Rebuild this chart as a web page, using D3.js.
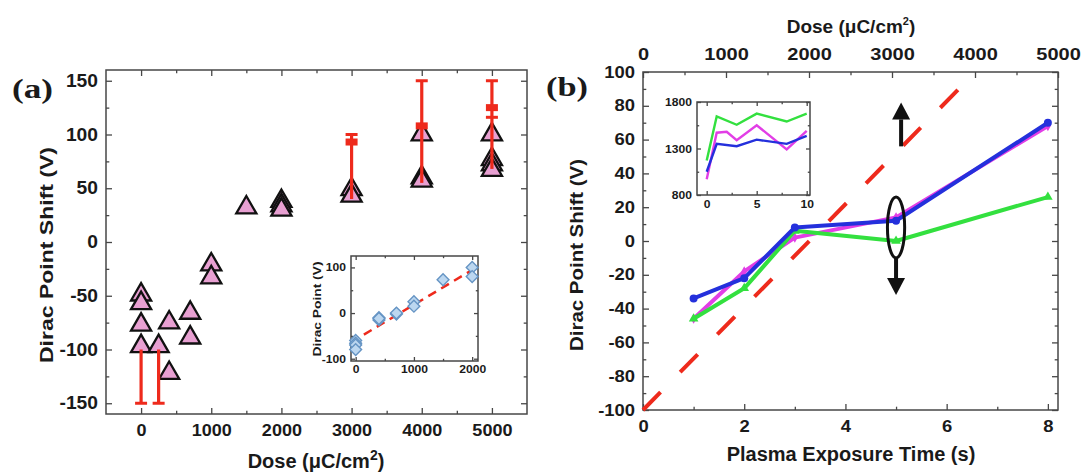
<!DOCTYPE html>
<html lang="en">
<head>
<meta charset="UTF-8">
<title>Dirac point shift vs dose</title>
<style>
  body { margin: 0; background: #fff; }
  svg text { font-family: "Liberation Sans", Arial, Helvetica, sans-serif; font-weight: bold; fill: #1a1a1a; }
</style>
</head>
<body>
<svg id="fig" width="1082" height="474"></svg>
<script src="https://d3js.org/d3.v7.min.js"></script>
<script>
// ---- panel (a): Dirac point shift vs e-beam dose (triangles)
const doseA  = [0, 0, 0, 0, 250, 400, 400, 700, 700, 1000, 1000, 1500, 2000, 2000, 2000, 3000, 3000, 4000, 4000, 4000, 5000, 5000, 5000, 5000];
const shiftA = [-49, -57, -77, -97, -97, -75, -122, -66, -89, -21, -33, 32, 38, 34, 30, 49, 43, 100, 60, 57, 100, 77, 72, 67];

// red error bars in (a)
const errDose  = [0, 250, 3000, 4000, 5000];
const errLow   = [-150, -150, 40, 55, 68];
const errHigh  = [-100, -100, 100, 150, 150];
const capDose  = [0, 250, 3000, 4000, 5000, 5000];
const capVal   = [-150, -150, 100, 150, 150, 116];
const meanDose = [3000, 4000, 5000];
const meanVal  = [93, 108, 125];

// inset of (a): Dirac point vs dose (diamonds + fit)
const insetDose  = [0, 0, 0, 0, 400, 400, 400, 700, 700, 1000, 1000, 1500, 2000, 2000];
const insetDirac = [-60, -66, -70, -80, -10, -15, -12, -2, 0, 25, 15, 73, 100, 80];
const fitDose  = [-80, 2100];
const fitDirac = [-64, 102];

// ---- panel (b): shift vs plasma exposure time
const timeB    = [1, 2, 3, 5, 8];
const blueB    = [-34, -22, 8, 12, 70];
const magentaB = [-46, -18, 2, 14, 68];
const greenB   = [-46, -28, 6, 0, 26];
const guideTime  = [0, 6.33];
const guideShift = [-100, 92.7];

// inset of (b)
const insetTime    = [0, 1, 3, 5, 8, 10];
const insetGreen   = [1170, 1645, 1555, 1675, 1590, 1675];
const insetBlue    = [1050, 1350, 1325, 1395, 1350, 1435];
const magentaTime  = [0, 1, 2, 3, 5, 8, 10];
const insetMagenta = [970, 1470, 1480, 1390, 1550, 1290, 1490];

// annotations in (b)
const ringTime = 5, ringShift = 8, ringHalfTime = 0.17, ringHalfShift = 18;
const arrowTime = [5.1, 5.0];
const arrowFrom = [56, -10];
const arrowTo   = [82, -32];

const FONT = '"Liberation Sans", Arial, Helvetica, sans-serif';
const FRAME = "#474747";
const RED = "#ee2a1c";
const svg = d3.select("#fig");

// widen glyphs a little, the source figure is slightly stretched
function stretch(sel, k) {
  if (k === 1) return;
  sel.each(function () {
    const w = this.getComputedTextLength();
    if (w > 0) {
      this.setAttribute("textLength", w * k);
      this.setAttribute("lengthAdjust", "spacingAndGlyphs");
    }
  });
}

// one side of a boxed axis: inward major + minor ticks
function side(g, make, scale, tr, majors, minors, len, pad, fmt, fs, k) {
  const a = g.append("g").attr("transform", tr)
    .call(make(scale).tickValues(majors).tickSize(-len).tickPadding(pad).tickFormat(fmt || (() => "")));
  const m = g.append("g").attr("transform", tr)
    .call(make(scale).tickValues(minors).tickSize(-len * 0.55).tickFormat(() => ""));
  [a, m].forEach(s => {
    s.select(".domain").remove();
    s.selectAll("line").attr("stroke", FRAME).attr("stroke-width", 1.3);
  });
  a.attr("font-family", FONT).attr("font-size", fs).attr("font-weight", "bold");
  a.selectAll("text").attr("fill", "#1a1a1a").call(stretch, k || 1);
}

function frame(g, x, y, fill) {
  const [x0, x1] = x.range(), [y0, y1] = y.range();
  g.append("rect").attr("x", x0).attr("y", y1).attr("width", x1 - x0).attr("height", y0 - y1)
    .attr("fill", fill || "none").attr("stroke", FRAME).attr("stroke-width", 1.5);
}

const fmt = d => String(d);

// ================= panel (a) =================
const xA = d3.scaleLinear().domain([-500, 5500]).range([106, 527]);
const yA = d3.scaleLinear().domain([-160, 160]).range([414, 70]);
const gA = svg.append("g");
const xMajA = d3.range(0, 5001, 1000), xMinA = d3.range(500, 5000, 1000);
const yMajA = d3.range(-150, 151, 50), yMinA = d3.range(-125, 126, 50);
side(gA, d3.axisBottom, xA, "translate(0,414)", xMajA, xMinA, 6, 10, fmt, 17, 1.06);
side(gA, d3.axisTop, xA, "translate(0,70)", xMajA, xMinA, 6, 0, null, 17);
side(gA, d3.axisLeft, yA, "translate(106,0)", yMajA, yMinA, 6, 8, fmt, 17.5, 1.1);
side(gA, d3.axisRight, yA, "translate(527,0)", yMajA, yMinA, 6, 0, null, 17);
frame(gA, xA, yA);

// inset (a)
const xIA = d3.scaleLinear().domain([-80, 2100]).range([351, 478]);
const yIA = d3.scaleLinear().domain([-105, 125]).range([361, 256]);
const gIA = svg.append("g");
frame(gIA, xIA, yIA, "#fff");
side(gIA, d3.axisBottom, xIA, "translate(0,361)", [0, 1000, 2000], [500, 1500], 4, 4, fmt, 11, 1.1);
side(gIA, d3.axisTop, xIA, "translate(0,256)", [0, 1000, 2000], [500, 1500], 4, 0, null, 11);
side(gIA, d3.axisLeft, yIA, "translate(351,0)", [-100, 0, 100], [-50, 50], 4, 5, fmt, 11, 1.1);
side(gIA, d3.axisRight, yIA, "translate(478,0)", [-100, 0, 100], [-50, 50], 4, 0, null, 11);
gIA.append("path")
  .attr("d", d3.line()(fitDose.map((d, i) => [xIA(d), yIA(fitDirac[i])])))
  .attr("stroke", RED).attr("stroke-width", 2.5).attr("stroke-dasharray", "9,6").attr("fill", "none");
gIA.selectAll("path.dia").data(insetDose.map((d, i) => [d, insetDirac[i]])).join("path")
  .attr("class", "dia")
  .attr("d", d3.symbol(d3.symbolSquare, 70)())
  .attr("transform", d => `translate(${xIA(d[0])},${yIA(d[1])}) rotate(45)`)
  .attr("fill", "#bcd7f0").attr("stroke", "#6594c4").attr("stroke-width", 1.4);
gIA.append("text").attr("transform", "translate(321,309) rotate(-90)")
  .attr("text-anchor", "middle").attr("font-size", 11).attr("textLength", 95)
  .attr("lengthAdjust", "spacingAndGlyphs").text("Dirac Point (V)");

// triangles
gA.selectAll("path.tri").data(doseA.map((d, i) => [d, shiftA[i]])).join("path")
  .attr("class", "tri")
  .attr("d", d3.symbol(d3.symbolTriangle, 175)())
  .attr("transform", d => `translate(${xA(d[0])},${yA(d[1])})`)
  .attr("fill", "#e8a0d2").attr("stroke", "#111").attr("stroke-width", 2.3);

// error bars
const gErr = gA.append("g").attr("stroke", RED).attr("fill", RED);
gErr.selectAll("line.bar").data(errDose).join("line").attr("class", "bar")
  .attr("x1", d => xA(d)).attr("x2", d => xA(d))
  .attr("y1", (d, i) => yA(errLow[i])).attr("y2", (d, i) => yA(errHigh[i]))
  .attr("stroke-width", 3.2);
gErr.selectAll("line.cap").data(capDose).join("line").attr("class", "cap")
  .attr("x1", d => xA(d) - 6).attr("x2", d => xA(d) + 6)
  .attr("y1", (d, i) => yA(capVal[i])).attr("y2", (d, i) => yA(capVal[i]))
  .attr("stroke-width", 3);
gErr.selectAll("rect").data(meanDose).join("rect")
  .attr("x", d => xA(d) - 6).attr("width", 12)
  .attr("y", (d, i) => yA(meanVal[i]) - 3.5).attr("height", 7).attr("stroke", "none");

// labels (a)
gA.append("text").attr("transform", "translate(53,255) rotate(-90)").attr("text-anchor", "middle")
  .attr("font-size", 18).attr("textLength", 216).attr("lengthAdjust", "spacingAndGlyphs")
  .text("Dirac Point Shift (V)");
const tA = gA.append("text").attr("x", 316).attr("y", 468).attr("text-anchor", "middle").attr("font-size", 20);
tA.append("tspan").text("Dose (\u03bcC/cm");
tA.append("tspan").attr("dy", -8).attr("font-size", 14).text("2");
tA.append("tspan").attr("dy", 8).text(")");
svg.append("text").attr("x", 12).attr("y", 98).attr("font-size", 28)
  .style("font-family", '"Liberation Serif", "Times New Roman", serif')
  .attr("textLength", 41).attr("lengthAdjust", "spacingAndGlyphs").text("(a)");

// ================= panel (b) =================
const xB = d3.scaleLinear().domain([0, 8.2]).range([643, 1058]);
const xDose = d3.scaleLinear().domain([0, 5000]).range([643, 1058]);
const yB = d3.scaleLinear().domain([-100, 100]).range([410, 72]);
const gB = svg.append("g");
const yMajB = d3.range(-100, 101, 20), yMinB = d3.range(-90, 91, 20);
side(gB, d3.axisBottom, xB, "translate(0,410)", [0, 2, 4, 6, 8], [1, 3, 5, 7], 6, 11, fmt, 16, 1.15);
side(gB, d3.axisTop, xDose, "translate(0,72)", d3.range(0, 5001, 1000), d3.range(500, 5000, 1000), 6, 12, fmt, 16, 1.25);
side(gB, d3.axisLeft, yB, "translate(643,0)", yMajB, yMinB, 6, 8, fmt, 16, 1.15);
side(gB, d3.axisRight, yB, "translate(1058,0)", yMajB, yMinB, 6, 0, null, 16);
frame(gB, xB, yB);

// red dashed guide
gB.append("path")
  .attr("d", d3.line()(guideTime.map((d, i) => [xB(d), yB(guideShift[i])])))
  .attr("stroke", RED).attr("stroke-width", 4).attr("stroke-dasharray", "25,28").attr("fill", "none");

const lineB = d3.line().x(d => xB(d[0])).y(d => yB(d[1]));
const series = [
  { v: magentaB, c: "#e23ee6", sym: d3.symbolDiamond, s: 30 },
  { v: greenB, c: "#33e03f", sym: d3.symbolTriangle, s: 40 },
  { v: blueB, c: "#2430dc", sym: d3.symbolCircle, s: 50 }
];
series.forEach(sr => {
  const pts = timeB.map((t, i) => [t, sr.v[i]]);
  gB.append("path").attr("d", lineB(pts)).attr("stroke", sr.c).attr("stroke-width", 4)
    .attr("fill", "none").attr("stroke-linejoin", "round");
  gB.selectAll(null).data(pts).join("path")
    .attr("d", d3.symbol(sr.sym, sr.s)())
    .attr("transform", d => `translate(${xB(d[0])},${yB(d[1])})`)
    .attr("fill", sr.c);
});

// ring and arrows
gB.append("ellipse").attr("cx", xB(ringTime)).attr("cy", yB(ringShift))
  .attr("rx", xB(ringTime + ringHalfTime) - xB(ringTime))
  .attr("ry", yB(ringShift - ringHalfShift) - yB(ringShift))
  .attr("fill", "none").attr("stroke", "#111").attr("stroke-width", 3);
arrowTime.forEach((t, i) => {
  const x = xB(t), y0 = yB(arrowFrom[i]), y1 = yB(arrowTo[i]);
  const dir = y1 < y0 ? -1 : 1, head = 17;
  gB.append("line").attr("x1", x).attr("x2", x).attr("y1", y0).attr("y2", y1 - dir * head)
    .attr("stroke", "#111").attr("stroke-width", 4);
  gB.append("path").attr("d", `M${x - 9},${y1 - dir * head}L${x + 9},${y1 - dir * head}L${x},${y1}Z`).attr("fill", "#111");
});

// inset (b)
const xIB = d3.scaleLinear().domain([-0.97, 10.33]).range([697, 810]);
const yIB = d3.scaleLinear().domain([800, 1800]).range([195, 102]);
const gIB = svg.append("g");
frame(gIB, xIB, yIB, "#fff");
side(gIB, d3.axisBottom, xIB, "translate(0,195)", [0, 5, 10], [2.5, 7.5], 4, 5, fmt, 11, 1.1);
side(gIB, d3.axisTop, xIB, "translate(0,102)", [0, 5, 10], [2.5, 7.5], 4, 0, null, 11);
side(gIB, d3.axisLeft, yIB, "translate(697,0)", [800, 1300, 1800], [1050, 1550], 4, 5, fmt, 11, 1.1);
side(gIB, d3.axisRight, yIB, "translate(810,0)", [800, 1300, 1800], [1050, 1550], 4, 0, null, 11);
const lineIB = d3.line().x(d => xIB(d[0])).y(d => yIB(d[1]));
[
  { t: insetTime, v: insetGreen, c: "#33e03f" },
  { t: magentaTime, v: insetMagenta, c: "#e23ee6" },
  { t: insetTime, v: insetBlue, c: "#2430dc" }
].forEach(sr => {
  gIB.append("path").attr("d", lineIB(sr.t.map((t, i) => [t, sr.v[i]])))
    .attr("stroke", sr.c).attr("stroke-width", 2.4).attr("fill", "none");
});

// labels (b)
gB.append("text").attr("transform", "translate(583,255) rotate(-90)").attr("text-anchor", "middle")
  .attr("font-size", 18).attr("textLength", 192).attr("lengthAdjust", "spacingAndGlyphs")
  .text("Dirac Point Shift (V)");
gB.append("text").attr("x", 851).attr("y", 461).attr("text-anchor", "middle").attr("font-size", 20)
  .text("Plasma Exposure Time (s)");
const tB = gB.append("text").attr("x", 851).attr("y", 33).attr("text-anchor", "middle").attr("font-size", 19);
tB.append("tspan").text("Dose (\u03bcC/cm");
tB.append("tspan").attr("dy", -8).attr("font-size", 11).text("2");
tB.append("tspan").attr("dy", 8).text(")");
svg.append("text").attr("x", 546).attr("y", 96).attr("font-size", 28)
  .style("font-family", '"Liberation Serif", "Times New Roman", serif')
  .attr("textLength", 42).attr("lengthAdjust", "spacingAndGlyphs").text("(b)");
</script>
</body>
</html>
